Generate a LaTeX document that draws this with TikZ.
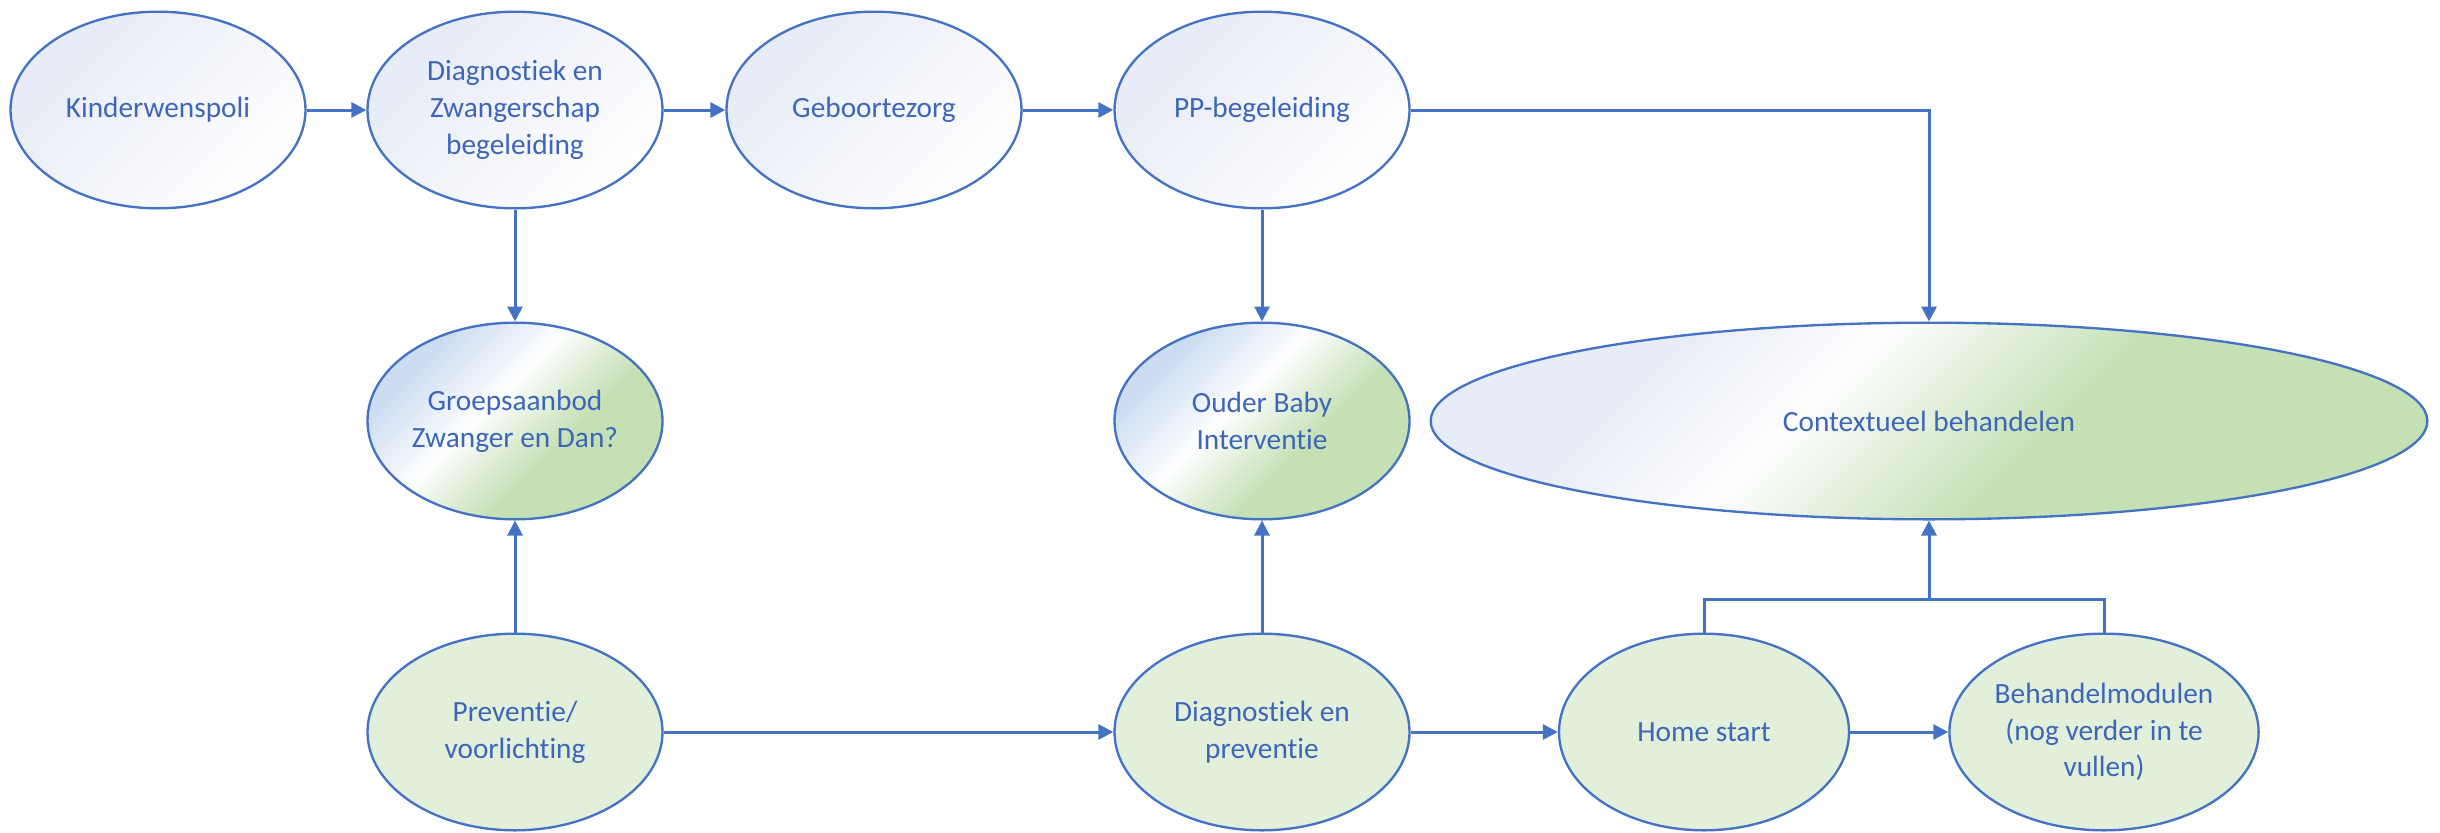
\documentclass[tikz,border=0pt]{standalone}
\usepackage{fontspec}
\setmainfont{Carlito}[Ligatures=NoCommon]
\usetikzlibrary{shapes.geometric,arrows.meta}

\definecolor{lineblue}{RGB}{68,114,196}
\definecolor{textblue}{RGB}{62,102,184}
\definecolor{lightgreen}{RGB}{226,239,218}
\definecolor{midgreen}{RGB}{197,224,180}
\definecolor{paleblue}{RGB}{204,221,242}
\definecolor{greyblue}{RGB}{232,236,246}

\pgfdeclarehorizontalshading{topshade}{100bp}{color(0bp)=(greyblue); color(30bp)=(greyblue); color(75bp)=(white); color(100bp)=(white)}
\pgfdeclarehorizontalshading{midshade}{100bp}{color(0bp)=(paleblue); color(28bp)=(paleblue); color(44bp)=(white!92!greyblue); color(60bp)=(midgreen); color(100bp)=(midgreen)}
\pgfdeclarehorizontalshading{ctxshade}{100bp}{color(0bp)=(greyblue); color(30bp)=(greyblue); color(42bp)=(white!94!greyblue); color(58bp)=(midgreen); color(100bp)=(midgreen)}

\tikzset{every picture/.style={line width=0.75pt}}

\begin{document}
\begin{tikzpicture}[x=0.3pt,y=0.3pt,yscale=-1,xscale=1,
  oval/.style={ellipse,draw=lineblue,line width=0.7pt,inner sep=0pt,align=center,text=textblue,font=\fontsize{8.8}{11}\selectfont,minimum width=88.5pt,minimum height=59pt},
  toprow/.style={oval,shading=topshade,shading angle=-45},
  midrow/.style={oval,shading=midshade,shading angle=-45},
  lowrow/.style={oval,fill=lightgreen},
  arr/.style={draw=lineblue,line width=0.9pt,-{Triangle[length=4.5pt,width=4.5pt]}},
  lnk/.style={draw=lineblue,line width=0.9pt}]
\useasboundingbox (0,0) rectangle (2440,832);

%Shape: Ellipse (top row)
\node [toprow] (kinder) at (158,110) {Kinderwenspoli};
\node [toprow] (diag) at (515,110) {Diagnostiek en\\Zwangerschap\\begeleiding};
\node [toprow] (gebo) at (874,110) {Geboortezorg};
\node [toprow] (pp) at (1262,110) {PP-begeleiding};

%Shape: Ellipse (middle row)
\node [midrow] (groep) at (515,421) {Groepsaanbod\\Zwanger en Dan?};
\node [midrow] (ouder) at (1262,421) {Ouder Baby\\Interventie};
\node [midrow,shading=ctxshade,minimum width=299pt] (context) at (1929,421) {Contextueel behandelen};

%Shape: Ellipse (bottom row)
\node [lowrow] (prev) at (515,732) {Preventie/\\voorlichting};
\node [lowrow] (diagprev) at (1262,732) {Diagnostiek en\\preventie};
\node [lowrow,minimum width=87pt] (home) at (1704,732) {Home start};
\node [lowrow] (behandel) at (2104,732) {Behandelmodulen\\(nog verder in te\\vullen)};

\coordinate (join) at (1929,599);

%Straight Lines
\draw [arr] (kinder) -- (diag);
\draw [arr] (diag) -- (gebo);
\draw [arr] (gebo) -- (pp);
\draw [arr] (pp.east) -| (context.north);
\draw [arr] (diag) -- (groep);
\draw [arr] (pp) -- (ouder);
\draw [arr] (prev) -- (groep);
\draw [arr] (diagprev) -- (ouder);
\draw [arr] (prev) -- (diagprev);
\draw [arr] (diagprev) -- (home);
\draw [arr] (home) -- (behandel);

%Straight Lines (bracket)
\draw [lnk] (home.north) |- (join) -| (behandel.north);
\draw [arr] (join) -- (context.south);

\end{tikzpicture}
\end{document}
